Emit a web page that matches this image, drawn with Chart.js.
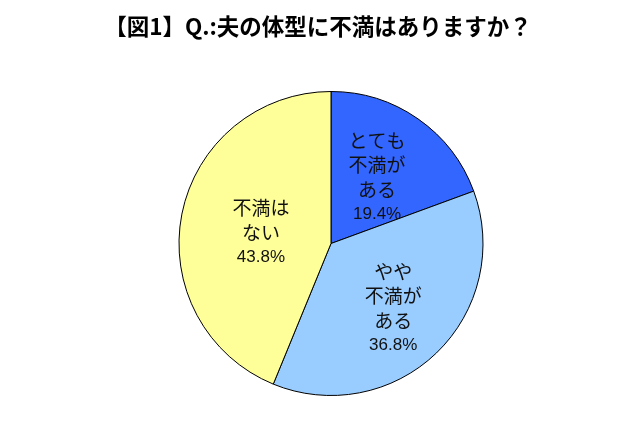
<!DOCTYPE html>
<html lang="ja">
<head>
<meta charset="UTF-8">
<title>夫の体型に不満はありますか</title>
<script src="https://cdn.jsdelivr.net/npm/chart.js"></script>
<style>
  html, body { margin: 0; padding: 0; background: #fff; }
  #wrap { width: 640px; height: 426px; }
</style>
</head>
<body>
<div id="wrap"><canvas id="pieChart"></canvas></div>
<script>
// データ
const chartTitle = '【図1】Q.:夫の体型に不満はありますか？';
const categories = [
    ['とても', '不満が', 'ある'],
    ['やや', '不満が', 'ある'],
    ['不満は', 'ない']
];
const values = [19.4, 36.8, 43.8];
const sliceColors = ['#3366ff', '#99ccff', '#ffff99'];

// スライス内のラベル（中心からの距離の割合）
const labelRadius = [0.53, 0.59, 0.47];

// タイトル（Chart.js の title だと余白で幅が縮むので自前で描く）
const topTitle = {
    id: 'topTitle',
    afterDraw(chart) {
        const ctx = chart.ctx;
        ctx.save();
        ctx.fillStyle = '#000';
        ctx.textAlign = 'center';
        ctx.textBaseline = 'middle';
        ctx.font = 'bold 22.5px "Noto Sans CJK JP", sans-serif';
        ctx.fillText(chartTitle, 318, 26);
        ctx.restore();
    }
};

const sliceLabels = {
    id: 'sliceLabels',
    afterDatasetsDraw(chart) {
        const ctx = chart.ctx;
        const meta = chart.getDatasetMeta(0);
        ctx.save();
        ctx.fillStyle = '#111';
        ctx.textAlign = 'center';
        ctx.textBaseline = 'middle';
        meta.data.forEach(function(arc, i) {
            const mid = (arc.startAngle + arc.endAngle) / 2;
            const r = arc.outerRadius * labelRadius[i];
            const cx = arc.x + Math.cos(mid) * r;
            const cy = arc.y + Math.sin(mid) * r;
            const lines = categories[i].concat([values[i].toFixed(1) + '%']);
            const step = 24.5;
            let y = cy - step * (lines.length - 1) / 2;
            if (i === 2) y += 3;
            lines.forEach(function(line, j) {
                if (j === lines.length - 1) {
                    ctx.font = '17px "Liberation Sans", Arial, sans-serif';
                } else {
                    ctx.font = '19px "Noto Sans CJK JP", sans-serif';
                }
                ctx.fillText(line, cx, y);
                y += step;
            });
        });
        ctx.restore();
    }
};

new Chart(document.getElementById('pieChart'), {
    type: 'pie',
    data: {
        labels: categories.map(c => c.join('')),
        datasets: [{
            data: values,
            backgroundColor: sliceColors,
            borderColor: '#000',
            borderWidth: 1
        }]
    },
    options: {
        responsive: true,
        maintainAspectRatio: false,
        animation: false,
        layout: { padding: { top: 91, bottom: 30, left: 178, right: 156 } },
        plugins: {
            legend: { display: false },
            tooltip: { enabled: false },
            title: { display: false }
        }
    },
    plugins: [sliceLabels, topTitle]
});
</script>
</body>
</html>
